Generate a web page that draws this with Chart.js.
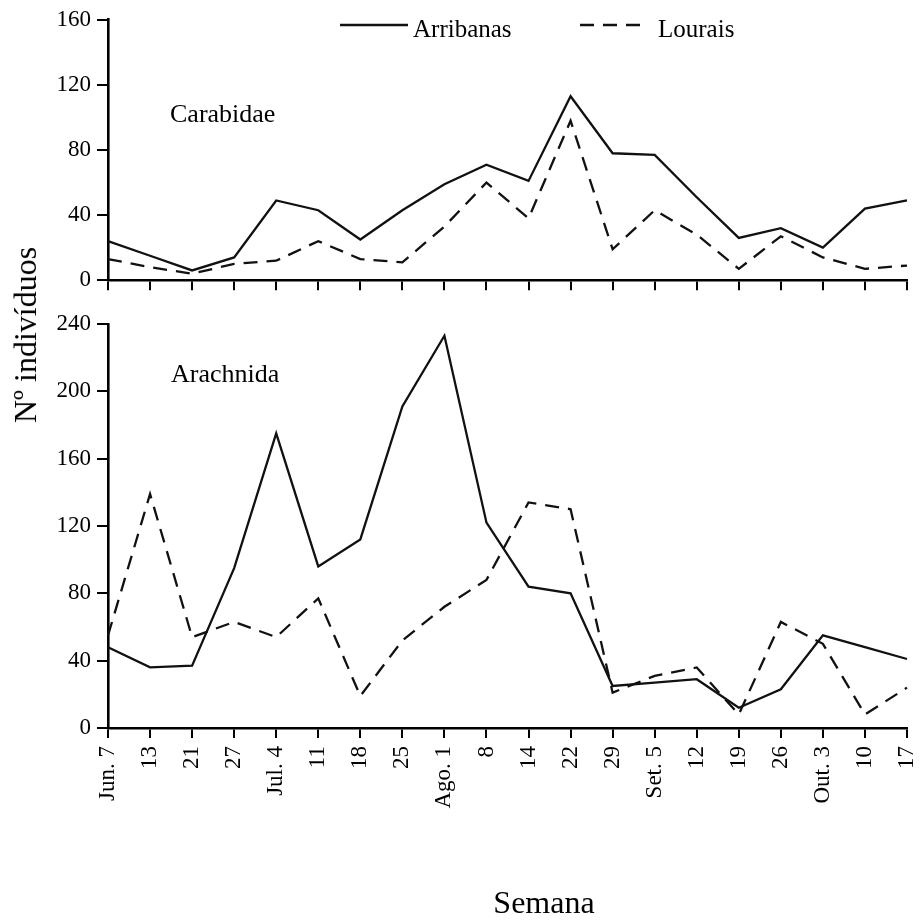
<!DOCTYPE html>
<html>
<head>
<meta charset="utf-8">
<script src="https://cdn.jsdelivr.net/npm/chart.js@4.4.0/dist/chart.umd.min.js"></script>
<style>
  html, body { margin: 0; padding: 0; background: #fff; }
  #wrap { position: relative; width: 921px; height: 920px; overflow: hidden; background: #fff; }
  #c1 { position: absolute; left: 0; top: 0; }
  #c2 { position: absolute; left: 0; top: 300px; }
  #ytitle {
    position: absolute; left: 25px; top: 335px;
    transform: translate(-50%, -50%) rotate(-90deg);
    font-family: 'Liberation Serif', 'Times New Roman', serif;
    font-size: 32px; color: #000; white-space: nowrap; line-height: 1;
  }
</style>
</head>
<body>
<div id="wrap">
  <canvas id="c1" width="921" height="300"></canvas>
  <canvas id="c2" width="921" height="620"></canvas>
  <div id="ytitle">Nº indivíduos</div>
</div>
<script>
// ---- Data ----
const weeks = ['Jun. 7','13','21','27','Jul. 4','11','18','25','Ago. 1','8','14','22','29','Set. 5','12','19','26','Out. 3','10','17'];
const seriesNames = ['Arribanas', 'Lourais'];
const carabidaeArribanas = [24, 15, 6, 14, 49, 43, 25, 43, 59, 71, 61, 113, 78, 77, 51, 26, 32, 20, 44, 49];
const carabidaeLourais   = [13, 8, 4, 10, 12, 24, 13, 11, 33, 60, 38, 98, 19, 43, 28, 7, 27, 14, 7, 9];
const arachnidaArribanas = [48, 36, 37, 95, 175, 96, 112, 191, 233, 122, 84, 80, 25, 27, 29, 12, 23, 55, 48, 41];
const arachnidaLourais   = [55, 139, 54, 63, 54, 77, 19, 52, 72, 88, 134, 130, 21, 31, 36, 8, 63, 50, 8, 24];
const carabidaeTicks = { min: 0, max: 160, step: 40 };
const arachnidaTicks = { min: 0, max: 240, step: 40 };
const panelNames = ['Carabidae', 'Arachnida'];
const xTitle = 'Semana';

const FONT = "'Liberation Serif', 'Times New Roman', serif";
Chart.defaults.font.family = FONT;
Chart.defaults.color = '#000';

function ds(label, data, dashed) {
  return {
    label, data,
    borderColor: '#111', backgroundColor: '#111',
    borderWidth: 2.3, borderDash: dashed ? [14, 9] : [],
    pointRadius: 0, pointHoverRadius: 0, tension: 0, fill: false
  };
}

function yScale(t) {
  return {
    min: t.min, max: t.max,
    ticks: { stepSize: t.step, padding: 6, font: { size: 23 }, color: '#000' },
    grid: { drawOnChartArea: false, drawTicks: true, tickLength: 11, color: '#000', lineWidth: 2 },
    border: { display: true, color: '#000', width: 2.6 },
    afterFit(s) { s.width = 108; }
  };
}

const textPlugin = (id, items) => ({
  id,
  afterDraw(chart) {
    const ctx = chart.ctx;
    ctx.save();
    ctx.fillStyle = '#000';
    ctx.textBaseline = 'alphabetic';
    items.forEach(it => {
      ctx.font = it.size + 'px ' + FONT;
      ctx.textAlign = it.align || 'left';
      ctx.fillText(it.text, it.x, it.y);
    });
    ctx.restore();
  }
});

// legend drawn from the datasets' own styles
const manualLegend = {
  id: 'manualLegend',
  afterDraw(chart) {
    const ctx = chart.ctx;
    const slots = [{ x0: 340, x1: 408, tx: 413 }, { x0: 580, x1: 648, tx: 658 }];
    chart.data.datasets.forEach((d, i) => {
      const s = slots[i];
      ctx.save();
      ctx.strokeStyle = d.borderColor;
      ctx.lineWidth = d.borderWidth;
      ctx.setLineDash(d.borderDash || []);
      ctx.beginPath();
      ctx.moveTo(s.x0, 25);
      ctx.lineTo(s.x1, 25);
      ctx.stroke();
      ctx.setLineDash([]);
      ctx.font = '25px ' + FONT;
      ctx.fillStyle = '#000';
      ctx.textAlign = 'left';
      ctx.textBaseline = 'alphabetic';
      ctx.fillText(d.label, s.tx, 37);
      ctx.restore();
    });
  }
};

new Chart(document.getElementById('c1'), {
  type: 'line',
  data: { labels: weeks, datasets: [ds(seriesNames[0], carabidaeArribanas, false), ds(seriesNames[1], carabidaeLourais, true)] },
  options: {
    responsive: false, animation: false, devicePixelRatio: 1,
    layout: { padding: { left: 0, right: 14, top: 19, bottom: 0 } },
    scales: {
      x: {
        type: 'category', offset: false,
        ticks: { display: false, autoSkip: false },
        grid: { drawOnChartArea: false, drawTicks: true, tickLength: 10, color: '#000', lineWidth: 2, offset: false },
        border: { display: true, color: '#000', width: 2.6 },
        afterFit(s) { s.height = 13; s.paddingLeft = 0; s.paddingRight = 0; }
      },
      y: yScale(carabidaeTicks)
    },
    plugins: { legend: { display: false }, tooltip: { enabled: false } }
  },
  plugins: [textPlugin('label1', [{ text: panelNames[0], x: 170, y: 122, size: 26 }]), manualLegend]
});

new Chart(document.getElementById('c2'), {
  type: 'line',
  data: { labels: weeks, datasets: [ds(seriesNames[0], arachnidaArribanas, false), ds(seriesNames[1], arachnidaLourais, true)] },
  options: {
    responsive: false, animation: false, devicePixelRatio: 1,
    layout: { padding: { left: 0, right: 14, top: 24, bottom: 0 } },
    scales: {
      x: {
        type: 'category', offset: false,
        ticks: { autoSkip: false, minRotation: 90, maxRotation: 90, padding: 8, font: { size: 23 }, color: '#000' },
        grid: { drawOnChartArea: false, drawTicks: true, tickLength: 10, color: '#000', lineWidth: 2, offset: false },
        border: { display: true, color: '#000', width: 2.6 },
        afterFit(s) { s.height = 192; s.paddingLeft = 0; s.paddingRight = 0; }
      },
      y: yScale(arachnidaTicks)
    },
    plugins: { legend: { display: false }, tooltip: { enabled: false } }
  },
  plugins: [textPlugin('label2', [
    { text: panelNames[1], x: 171, y: 82, size: 26 },
    { text: xTitle, x: 544, y: 613, size: 32, align: 'center' }
  ])]
});
</script>
</body>
</html>
